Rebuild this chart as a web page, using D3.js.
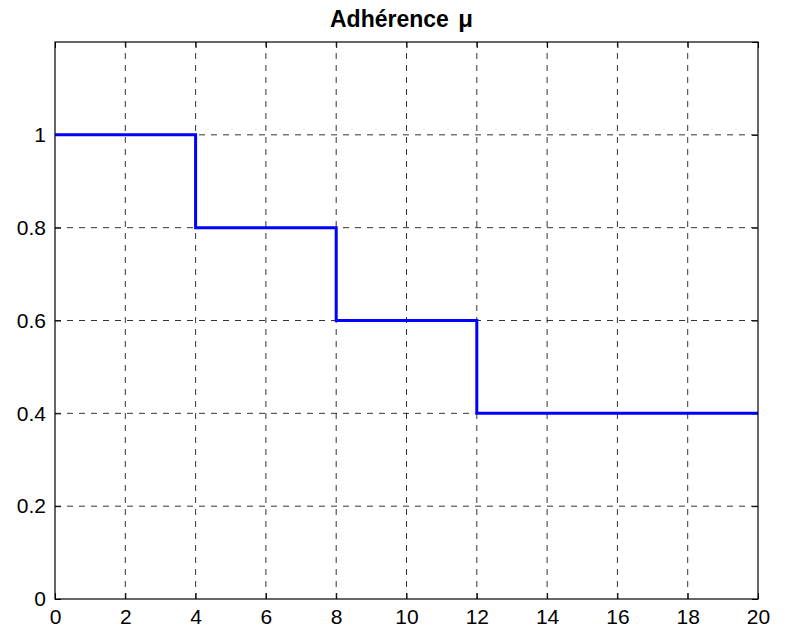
<!DOCTYPE html>
<html>
<head>
<meta charset="utf-8">
<script src="https://cdn.jsdelivr.net/npm/d3@7"></script>
<style>
body { margin: 0; background: #fff; }
text { font-family: Arial, "Liberation Sans", sans-serif; }
</style>
</head>
<body>
<script>
var width = 787;
var height = 630;
var margin = {left: 55, right: 29, top: 42, bottom: 31};

var stepX = [0, 4, 8, 12, 20];
var stepY = [1, 0.8, 0.6, 0.4, 0.4];
var xTicks = [0, 2, 4, 6, 8, 10, 12, 14, 16, 18, 20];
var yTicks = [0, 0.2, 0.4, 0.6, 0.8, 1];
var title = "Adhérence ";
var titleSymbol = "μ";

var x = d3.scaleLinear().domain([0, 20]).range([margin.left, width - margin.right]);
var y = d3.scaleLinear().domain([0, 1.2]).range([height - margin.bottom, margin.top]);

var svg = d3.select("body").append("svg")
    .attr("width", width)
    .attr("height", height);

// grid
svg.selectAll(".gx")
    .data(xTicks.slice(1, -1))
    .enter().append("line")
    .attr("x1", function(d) { return x(d); })
    .attr("x2", function(d) { return x(d); })
    .attr("y1", y(0)).attr("y2", y(1.2))
    .attr("stroke", "#000").attr("stroke-width", 0.8)
    .attr("stroke-dasharray", "6,6");
svg.selectAll(".gy")
    .data(yTicks.slice(1))
    .enter().append("line")
    .attr("y1", function(d) { return y(d); })
    .attr("y2", function(d) { return y(d); })
    .attr("x1", x(0)).attr("x2", x(20))
    .attr("stroke", "#000").attr("stroke-width", 0.8)
    .attr("stroke-dasharray", "6,6");

// axes, ticks inside
var xAxis = d3.axisBottom(x).tickValues(xTicks).tickSize(-6).tickPadding(10).tickFormat(d3.format("d"));
var yAxis = d3.axisLeft(y).tickValues(yTicks).tickSize(-6).tickPadding(9).tickFormat(function(d) { return d; });
var gx = svg.append("g").attr("transform", "translate(0," + y(0) + ")").call(xAxis);
var gy = svg.append("g").attr("transform", "translate(" + x(0) + ",0)").call(yAxis);
[gx, gy].forEach(function(g) {
    g.select(".domain").remove();
    g.selectAll("text").style("font-size", "21px").attr("fill", "#000");
    g.selectAll("line").attr("stroke", "#000");
});
// top axis ticks / right axis ticks
svg.append("g").attr("transform", "translate(0," + y(1.2) + ")")
    .call(d3.axisTop(x).tickValues(xTicks).tickSize(-6).tickFormat(""))
    .call(function(g) { g.select(".domain").remove(); g.selectAll("line").attr("stroke", "#000"); });
svg.append("g").attr("transform", "translate(" + x(20) + ",0)")
    .call(d3.axisRight(y).tickValues(yTicks.concat([1.2])).tickSize(-6).tickFormat(""))
    .call(function(g) { g.select(".domain").remove(); g.selectAll("line").attr("stroke", "#000"); });

// step line
var line = d3.line()
    .x(function(d, i) { return x(stepX[i]); })
    .y(function(d, i) { return y(stepY[i]); })
    .curve(d3.curveStepAfter);
svg.append("path")
    .attr("d", line(stepX))
    .attr("fill", "none")
    .attr("stroke", "#0000ff")
    .attr("stroke-width", 3);

// frame
svg.append("rect")
    .attr("x", x(0)).attr("y", y(1.2))
    .attr("width", x(20) - x(0)).attr("height", y(0) - y(1.2))
    .attr("fill", "none").attr("stroke", "#000").attr("stroke-width", 1.2);

var t = svg.append("text")
    .attr("x", 330)
    .attr("y", 27)
    .style("font-size", "23px")
    .style("font-weight", "bold")
    .text(title);
t.append("tspan")
    .attr("dx", 3)
    .style("font-size", "24px")
    .style("font-weight", "bold")
    .text(titleSymbol);
</script>
</body>
</html>
